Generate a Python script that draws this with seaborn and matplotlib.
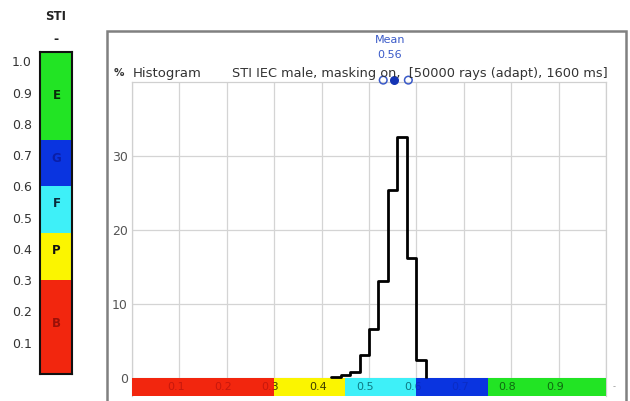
import numpy as np
import pandas as pd
import matplotlib
matplotlib.use("Agg")
import matplotlib.pyplot as plt
import matplotlib.transforms as mtransforms
from matplotlib.patches import Rectangle
import seaborn as sns

# ---------------- data ----------------
bin_left = [0.42, 0.44, 0.46, 0.48, 0.50, 0.52, 0.54, 0.56, 0.58, 0.60]
percent = [0.1, 0.4, 0.8, 3.1, 6.6, 13.1, 25.4, 32.5, 16.2, 2.4]
bin_width = 0.02
mean_value = 0.56
mean_markers = [0.53, 0.553, 0.583]
y_ticks = [0, 10, 20, 30]
x_grid = [0.0, 0.1, 0.2, 0.3, 0.4, 0.5, 0.6, 0.7, 0.8, 0.9, 1.0]
bar_labels = [0.1, 0.2, 0.3, 0.4, 0.5, 0.6, 0.7, 0.8, 0.9]
band_edges = [0.0, 0.30, 0.45, 0.60, 0.75, 1.03]
band_colors = ["#f2260e", "#fbf500", "#3ef0f8", "#0a34e0", "#22e424"]
band_text_colors = ["#c8180c", "#3c3c00", "#0e7a84", "#0a2cc4", "#0e6a10"]
rating_letters = ["B", "P", "F", "G", "E"]
rating_letter_y = [0.16, 0.395, 0.545, 0.69, 0.89]
left_ticks = [0.1, 0.2, 0.3, 0.4, 0.5, 0.6, 0.7, 0.8, 0.9, 1.0]
title_text = "STI IEC male, masking on,  [50000 rays (adapt), 1600 ms]"

sns.set_style("white")
plt.rcParams["font.family"] = ["DejaVu Sans"]

W, H = 630, 401
fig = plt.figure(figsize=(W / 100, H / 100), dpi=100)

def fx(px):
    return px / W

def fy(py):
    return 1 - py / H

# outer frame
fig.patches.append(Rectangle((fx(107), -0.05), fx(626) - fx(107), fy(31) + 0.05,
                             transform=fig.transFigure, fill=False,
                             edgecolor="#808080", lw=1.8))

# ---------------- main histogram axes ----------------
ax = fig.add_axes([fx(132), fy(396), fx(606) - fx(132), (396 - 82) / H])
hist_df = pd.DataFrame({"sti": [b + bin_width / 2 for b in bin_left], "pct": percent})
edges = list(bin_left) + [bin_left[-1] + bin_width]
sns.histplot(data=hist_df, x="sti", weights="pct", bins=edges, element="step",
             fill=False, color="black", linewidth=2.0, ax=ax, zorder=5)
# close the outline at the right end
ax.vlines(edges[-1], 0, percent[-1], color="black", lw=2.0, zorder=5)
ax.set_xlim(0, 1.0)
ax.set_ylim(-2.5, 40)
ax.set_xticks(x_grid)
ax.set_yticks(y_ticks)
ax.set_yticklabels([str(v) for v in y_ticks])
ax.tick_params(axis="x", length=0, labelbottom=False)
ax.tick_params(axis="y", length=0, pad=3, labelsize=9, labelcolor="#555555")
ax.grid(True, color="#d4d4d4", lw=0.9)
ax.set_xlabel("")
ax.set_ylabel("")
for s in ["left", "right", "top"]:
    ax.spines[s].set_color("#d0d0d0")
    ax.spines[s].set_linewidth(0.9)
ax.spines["bottom"].set_visible(False)

# colour band under the histogram
for i in range(len(band_colors)):
    x0 = band_edges[i]
    x1 = min(band_edges[i + 1], 1.0)
    rect = Rectangle((x0, -2.55), x1 - x0, 2.45, facecolor=band_colors[i],
                     edgecolor="none", zorder=3)
    ax.add_patch(rect)
    clipbox = mtransforms.TransformedBbox(
        mtransforms.Bbox([[x0, -2.55], [x1, -0.1]]), ax.transData)
    for v in bar_labels:
        t = ax.text(v - 0.008, -1.3, f"{v:.1f}", ha="center", va="center",
                    fontsize=8, color=band_text_colors[i], zorder=4)
        t.set_clip_on(True)
        t.set_clip_box(clipbox)

# mean markers above the plot
trans = mtransforms.blended_transform_factory(ax.transData, ax.transAxes)
for k, mx in enumerate(mean_markers):
    if k == 1:
        ax.scatter([mx], [1.006], s=30, marker="o", color="#1434b4",
                   transform=trans, clip_on=False, zorder=6)
    else:
        ax.scatter([mx], [1.006], s=30, marker="o", facecolors="none",
                   edgecolors="#3a5ac8", linewidths=1.1,
                   transform=trans, clip_on=False, zorder=6)

fig.text(fx(390), fy(40), "Mean", ha="center", va="center", fontsize=8, color="#3a5ac8")
fig.text(fx(390), fy(55), f"{mean_value:.2f}", ha="center", va="center", fontsize=8, color="#3a5ac8")
fig.text(fx(119), fy(73), "%", ha="center", va="center", fontsize=7.5, color="#333333", weight="bold")
fig.text(fx(133), fy(74), "Histogram", ha="left", va="center", fontsize=9.5, color="#333333")
fig.text(fx(608), fy(74), title_text, ha="right", va="center", fontsize=9.3, color="#333333")
fig.text(fx(614), fy(387), "-", ha="center", va="center", fontsize=6, color="#999999")

# ---------------- left STI scale ----------------
ax2 = fig.add_axes([fx(40), fy(374), fx(72) - fx(40), 322 / H])
ax2.set_xlim(0, 1)
ax2.set_ylim(0, 1.03)
for i in range(len(band_colors)):
    ax2.axhspan(band_edges[i], band_edges[i + 1], xmin=0.04, xmax=0.96,
                color=band_colors[i], lw=0)
letter_colors = ["#9a1008", "#111111", "#0a2a3a", "#0a1ea8", "#0a2a0a"]
for letter, ly, c in zip(rating_letters, rating_letter_y, letter_colors):
    ax2.text(0.52, ly, letter, ha="center", va="center", fontsize=8.5,
             weight="bold", color=c)
ax2.set_xticks([])
ax2.set_yticks(left_ticks)
ax2.set_yticklabels([f"{v:.1f}" for v in left_ticks])
ax2.tick_params(axis="y", length=0, pad=6, labelsize=9, labelcolor="#333333")
for s in ax2.spines.values():
    s.set_color("#111111")
    s.set_linewidth(1.5)

fig.text(fx(56), fy(17), "STI", ha="center", va="center", fontsize=8.5, weight="bold", color="#222222")
fig.text(fx(56), fy(40), "-", ha="center", va="center", fontsize=9, weight="bold", color="#222222")

fig.savefig("out.png", dpi=100)
